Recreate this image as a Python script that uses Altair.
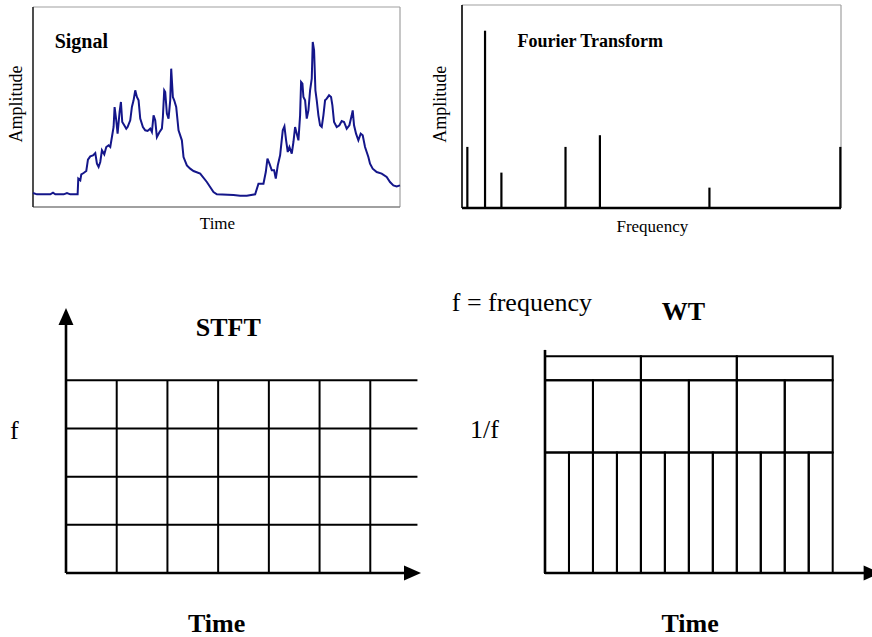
import altair as alt
import pandas as pd

# ---------------- data ----------------
signal_time = [0, 12, 52, 60, 67, 92, 102, 112, 134, 136,
               142, 145, 152, 160, 165, 172, 180, 187, 192, 197,
               202, 207, 214, 220, 227, 232, 237, 242, 245, 250,
               254, 260, 264, 268, 274, 280, 284, 292, 297, 302,
               307, 312, 317, 322, 330, 337, 344, 352, 357, 362,
               367, 372, 380, 387, 390, 394, 397, 402, 407, 412,
               415, 420, 424, 430, 437, 447, 452, 462, 472, 482,
               502, 522, 542, 552, 602, 622, 642, 667, 677, 692,
               699, 704, 710, 717, 724, 729, 735, 742, 750, 755,
               760, 765, 770, 777, 782, 787, 792, 797, 802, 805,
               809, 812, 817, 822, 827, 832, 837, 840, 844, 848,
               852, 857, 862, 867, 872, 877, 882, 889, 895, 899,
               904, 912, 920, 927, 934, 942, 950, 957, 960, 964,
               970, 977, 984, 990, 997, 1002, 1007, 1012, 1020, 1032,
               1047, 1062, 1072, 1082, 1092, 1102]
signal_amp = [42, 38, 38, 43, 38, 38, 42, 38, 38, 85,
              80, 98, 102, 108, 142, 152, 155, 162, 130, 120,
              135, 170, 158, 180, 185, 180, 210, 240, 300, 260,
              220, 285, 315, 255, 245, 235, 240, 260, 300, 320,
              350, 330, 320, 265, 240, 230, 228, 235, 225, 275,
              260, 210, 225, 235, 270, 350, 345, 280, 265, 320,
              415, 330, 320, 300, 230, 200, 150, 125, 115, 108,
              100, 75, 45, 38, 36, 34, 34, 38, 70, 70,
              105, 145, 130, 110, 110, 85, 125, 155, 230, 242,
              200, 165, 180, 160, 195, 240, 220, 200, 275, 375,
              370, 330, 320, 265, 290, 350, 385, 495, 470, 350,
              320, 275, 245, 240, 275, 320, 325, 335, 330, 305,
              255, 240, 245, 258, 255, 235, 245, 275, 290, 245,
              220, 200, 220, 215, 180, 165, 150, 130, 115, 105,
              100, 90, 75, 65, 62, 65]

fourier_freq = [16, 69, 118, 310, 413, 741, 1133]
fourier_amp = [183, 531, 106, 183, 218, 61, 183]

stft_time_edges = [0, 1, 2, 3, 4, 5, 6, 7]
stft_freq_edges = [0, 1, 2, 3, 4]

wt_row_bottom = [0, 2.5, 4.0]
wt_row_top = [2.5, 4.0, 4.5]
wt_row_cells = [12, 6, 3]
wt_time_span = 12

FONT = "Liberation Serif"
SIG_COLOR = "#14168a"
GRAY = "#a0a0a0"


# ---------------- helpers ----------------
def sc(dom, rng):
    return alt.Scale(domain=dom, range=rng, nice=False, zero=False)


SIG_X = sc([0, 1102], [33, 400])
SIG_Y = sc([0, 600], [207, 7])
FT_X = sc([0, 1135], [462, 841])
FT_Y = sc([0, 608], [208, 5])
ST_X = sc([0, 7], [66, 421])
WT_X = sc([0, 12], [545, 832.7])
BOT_Y = sc([0, 5.5], [573, 308])


def xd(v, s):
    return alt.XDatum(v, type="quantitative", scale=s, axis=None)


def yd(v, s):
    return alt.YDatum(v, type="quantitative", scale=s, axis=None)


def hrule(y, x0, x1, xs, ys, color="black", w=2.0):
    return alt.Chart().mark_rule(color=color, strokeWidth=w).encode(
        x=xd(x0, xs), x2=alt.X2Datum(x1), y=yd(y, ys))


def vrule(x, y0, y1, xs, ys, color="black", w=2.0):
    return alt.Chart().mark_rule(color=color, strokeWidth=w).encode(
        x=xd(x, xs), y=yd(y0, ys), y2=alt.Y2Datum(y1))


def label(text, x, y, xs, ys, size=17, bold=False, align="center",
          baseline="alphabetic", angle=0):
    kw = dict(text=text, font=FONT, fontSize=size, color="black",
              align=align, baseline=baseline)
    if bold:
        kw["fontWeight"] = "bold"
    if angle:
        kw["angle"] = angle
    return alt.Chart().mark_text(**kw).encode(x=xd(x, xs), y=yd(y, ys))


def arrow(x, y, xs, ys, path):
    return alt.Chart().mark_point(shape=path, size=289, filled=True,
                                  color="black", opacity=1,
                                  strokeWidth=0).encode(
        x=xd(x, xs), y=yd(y, ys))


UP = "M0,0L-0.88,2L0.88,2Z"
RIGHT = "M0,0L-2,-0.88L-2,0.88Z"

# ---------------- Signal panel ----------------
sig_df = pd.DataFrame({"time": signal_time, "amp": signal_amp})
sig_line = alt.Chart(sig_df).mark_line(color=SIG_COLOR, strokeWidth=2).encode(
    x=alt.X("time:Q", scale=SIG_X, axis=None),
    y=alt.Y("amp:Q", scale=SIG_Y, axis=None),
)
sig_panel = alt.layer(
    hrule(600, 0, 1102, SIG_X, SIG_Y, GRAY, 1.2),
    vrule(1102, 0, 600, SIG_X, SIG_Y, GRAY, 1.2),
    hrule(0, 0, 1102, SIG_X, SIG_Y, "#808080", 1.6),
    vrule(0, 0, 600, SIG_X, SIG_Y, "#222222", 1.6),
    sig_line,
    label("Signal", 65, 478, SIG_X, SIG_Y, size=20, bold=True, align="left"),
    label("Amplitude", -48, 309, SIG_X, SIG_Y, size=18, baseline="middle", angle=270),
    label("Time", 554, -66, SIG_X, SIG_Y, size=17),
)

# ---------------- Fourier panel ----------------
ft_df = pd.DataFrame({"freq": fourier_freq, "amp": fourier_amp})
ft_spikes = alt.Chart(ft_df).mark_rule(color="black", strokeWidth=2.2).encode(
    x=alt.X("freq:Q", scale=FT_X, axis=None),
    y=alt.Y("amp:Q", scale=FT_Y, axis=None),
    y2=alt.Y2Datum(0),
)
ft_panel = alt.layer(
    hrule(608, 0, 1135, FT_X, FT_Y, GRAY, 1.2),
    vrule(1135, 0, 608, FT_X, FT_Y, GRAY, 1.2),
    ft_spikes,
    hrule(0, 0, 1135, FT_X, FT_Y, "black", 2.4),
    vrule(0, 0, 608, FT_X, FT_Y, "black", 1.6),
    label("Fourier Transform", 166, 483, FT_X, FT_Y, size=18, bold=True, align="left"),
    label("Amplitude", -63, 311, FT_X, FT_Y, size=18, baseline="middle", angle=270),
    label("Frequency", 570, -72, FT_X, FT_Y, size=17),
)

# ---------------- STFT panel ----------------
stft_h = pd.DataFrame({"f": stft_freq_edges[1:]})
stft_v = pd.DataFrame({"t": stft_time_edges[1:-1]})
stft_hlines = alt.Chart(stft_h).mark_rule(color="black", strokeWidth=2).encode(
    y=alt.Y("f:Q", scale=BOT_Y, axis=None),
    x=xd(stft_time_edges[0], ST_X),
    x2=alt.X2Datum(6.93),
)
stft_vlines = alt.Chart(stft_v).mark_rule(color="black", strokeWidth=2).encode(
    x=alt.X("t:Q", scale=ST_X, axis=None),
    y=yd(stft_freq_edges[0], BOT_Y),
    y2=alt.Y2Datum(stft_freq_edges[-1]),
)
stft_panel = alt.layer(
    stft_hlines,
    stft_vlines,
    vrule(0, 0, 5.2, ST_X, BOT_Y, "black", 2.6),
    hrule(0, 0, 6.75, ST_X, BOT_Y, "black", 2.6),
    arrow(0, 5.5, ST_X, BOT_Y, UP),
    arrow(7, 0, ST_X, BOT_Y, RIGHT),
    label("STFT", 3.2, 4.92, ST_X, BOT_Y, size=26, bold=True),
    label("f", -1.02, 2.775, ST_X, BOT_Y, size=26),
    label("Time", 2.97, -1.218, ST_X, BOT_Y, size=26, bold=True),
)

# ---------------- WT panel ----------------
rows = []
for lo, hi, n in zip(wt_row_bottom, wt_row_top, wt_row_cells):
    w = wt_time_span / n
    for i in range(n):
        rows.append({"x0": i * w, "x1": (i + 1) * w, "y0": lo, "y1": hi})
wt_df = pd.DataFrame(rows)
wt_cells = alt.Chart(wt_df).mark_rect(fillOpacity=0, stroke="black", strokeWidth=2).encode(
    x=alt.X("x0:Q", scale=WT_X, axis=None),
    x2="x1:Q",
    y=alt.Y("y0:Q", scale=BOT_Y, axis=None),
    y2="y1:Q",
)
wt_panel = alt.layer(
    wt_cells,
    vrule(0, 0, 4.63, WT_X, BOT_Y, "black", 2.6),
    hrule(0, 0, 13.4, WT_X, BOT_Y, "black", 2.6),
    arrow(14, 0, WT_X, BOT_Y, RIGHT),
    label("f = frequency", -3.89, 5.444, WT_X, BOT_Y, size=26, align="left"),
    label("WT", 5.77, 5.251, WT_X, BOT_Y, size=26, bold=True),
    label("1/f", -3.13, 2.80, WT_X, BOT_Y, size=26, align="left"),
    label("Time", 6.05, -1.218, WT_X, BOT_Y, size=26, bold=True),
)

chart = alt.layer(
    sig_panel, ft_panel, stft_panel, wt_panel,
    data=pd.DataFrame({"k": [0]}),
).resolve_scale(
    x="independent", y="independent"
).properties(
    width=872, height=637, padding=0,
    autosize=alt.AutoSizeParams(type="none"),
    background="white",
).configure_view(stroke=None)

chart.save("out.html", embed_options={"renderer": "svg", "actions": False})
